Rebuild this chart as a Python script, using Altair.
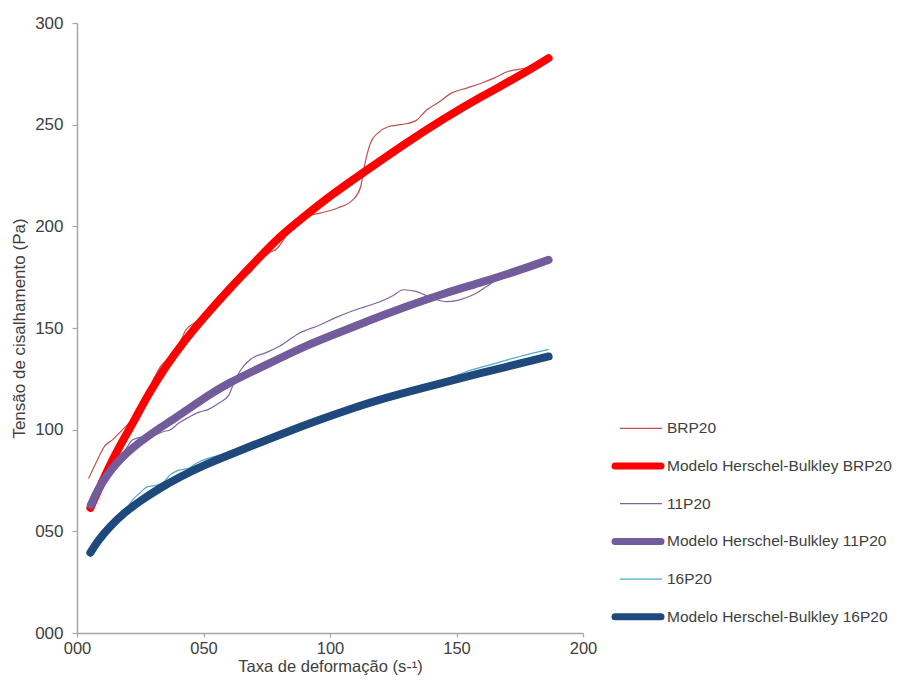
import altair as alt
import pandas as pd

# ---------------- data ----------------
series_names = [
    "BRP20",
    "Modelo Herschel-Bulkley BRP20",
    "11P20",
    "Modelo Herschel-Bulkley 11P20",
    "16P20",
    "Modelo Herschel-Bulkley 16P20",
]

brp_raw_x = [4.6, 8, 11, 14, 18, 22, 26, 30, 33, 36, 40, 43, 47, 52, 58, 62, 65, 68, 72, 76,
             79, 83, 87, 91, 96, 103, 109, 112, 114, 116, 119, 123, 128, 134, 138, 143, 148,
             154, 160, 165, 170, 178, 183, 186.4]
brp_raw_y = [76, 85, 92, 95, 100, 105, 112, 124, 131, 135, 141, 149, 153, 159, 167, 173, 176,
             177, 183, 187, 189, 196, 202, 205, 206.5, 209, 213, 219, 232, 241, 246, 249, 250,
             252, 257, 261, 265.5, 268, 270.5, 273, 276, 278, 280, 282]

brp_mod_x = [5.3, 8, 12, 16, 22, 28, 35, 42, 50, 60, 70, 80, 90, 100, 115, 130, 145, 160, 175, 186.4]
brp_mod_y = [61.6, 69, 80, 90, 103, 117, 131, 143, 155, 169, 182, 195, 205, 215, 228, 241, 253,
             264, 274, 282.7]

p11_raw_x = [5.5, 10, 15, 19, 22, 26, 30, 34, 37, 40, 44, 48, 52, 56, 60, 62, 64.5, 68.5, 75, 80,
             88, 96, 102, 108, 114, 120, 125, 129, 134, 138, 142, 146, 150, 154, 158, 162, 166,
             172, 178, 186.4]
p11_raw_y = [63, 75, 84, 90, 95, 96.5, 97, 99, 100, 103, 106, 108.5, 110, 113, 117, 123, 129,
             134.5, 138, 141, 147.5, 151.5, 155, 158, 160.5, 163, 166, 168.8, 168, 166, 164, 163,
             163.5, 165, 167.2, 170.5, 173.7, 177, 180, 183.5]

p11_mod_x = [5.5, 8, 12, 16, 20, 25, 31, 38, 45, 52, 60, 70, 80, 90, 100, 115, 130, 145, 160, 175, 186.4]
p11_mod_y = [63, 70, 78, 84, 89, 94, 99.5, 105, 111, 117, 123, 129, 135, 141, 146, 153.5, 160.5,
             167, 172.5, 178.5, 183.5]

p16_raw_x = [5.3, 10, 15, 19, 22, 25, 28, 31, 34, 37, 40, 44, 48, 52, 58, 65, 75, 85, 95, 105,
             115, 125, 135, 145, 155, 165, 175, 186.4]
p16_raw_y = [40, 48, 55, 60, 65.5, 69, 72, 72.5, 74, 78, 80, 81, 84, 86, 88, 91, 96, 101, 106,
             110, 114, 117.5, 121, 124.5, 129, 132.5, 136, 139.5]

p16_mod_x = [5.3, 8, 13, 19, 25, 33, 41, 50, 62, 70, 80, 96, 110, 120, 135, 152, 170, 186.4]
p16_mod_y = [39.5, 45, 52.5, 59.5, 65, 71.5, 77, 82.5, 88.5, 92.5, 97.5, 105, 111, 115, 120,
             125.5, 131, 136]

x_ticks = [0, 50, 100, 150, 200]
y_ticks = [0, 50, 100, 150, 200, 250, 300]

# ---------------- styles ----------------
series_colors = ["#C0504D", "#FF0000", "#8064A2", "#725C9C", "#4BACC6", "#1F497D"]
series_widths = [1.2, 8, 1.2, 8, 1.2, 8]

FONT = "Liberation Sans"
TXT = "#404040"
AX = "#A6A6A6"

all_x = [brp_raw_x, brp_mod_x, p11_raw_x, p11_mod_x, p16_raw_x, p16_mod_x]
all_y = [brp_raw_y, brp_mod_y, p11_raw_y, p11_mod_y, p16_raw_y, p16_mod_y]

rows = []
for name, xs, ys in zip(series_names, all_x, all_y):
    for k, (gx, ty) in enumerate(zip(xs, ys)):
        rows.append({"series": name, "k": k, "gamma": gx, "tau": ty})
df = pd.DataFrame(rows)

x_enc = alt.X(
    "gamma:Q",
    scale=alt.Scale(domain=[0, 200], nice=False),
    axis=alt.Axis(
        values=x_ticks, format="03d", grid=False, title="Taxa de deformação (s-¹)",
        labelFont=FONT, labelFontSize=16.5, labelColor=TXT, labelPadding=3, labelFlush=False,
        titleFont=FONT, titleFontSize=16.5, titleFontWeight="normal", titleColor=TXT,
        titlePadding=2, tickSize=4, tickColor=AX, domainColor=AX, domainWidth=1.5, tickWidth=1.2,
    ),
)
y_enc = alt.Y(
    "tau:Q",
    scale=alt.Scale(domain=[0, 300], nice=False),
    axis=alt.Axis(
        values=y_ticks, format="03d", grid=False, title="Tensão de cisalhamento (Pa)",
        labelFont=FONT, labelFontSize=17, labelColor=TXT, labelPadding=9, labelFlush=False,
        titleFont=FONT, titleFontSize=17, titleFontWeight="normal", titleColor=TXT,
        titlePadding=6, tickSize=5, tickColor=AX, domainColor=AX, domainWidth=1.5, tickWidth=1.2,
    ),
)

layers = []
for name, col, w in zip(series_names, series_colors, series_widths):
    thick = w > 2
    layers.append(
        alt.Chart(df)
        .transform_filter(alt.datum.series == name)
        .mark_line(
            interpolate="basis" if thick else "monotone", color=col, strokeWidth=w,
            strokeCap="round" if thick else "butt", strokeJoin="round",
        )
        .encode(x=x_enc, y=y_enc, order="k:Q")
    )

# ---------------- custom legend (thin / thick symbols) ----------------
LEG_TX = 590
LEG_Y0, LEG_DY = 405.3, 37.7
one = pd.DataFrame({"d": [0]})
for i, (name, col, w) in enumerate(zip(series_names, series_colors, series_widths)):
    yy = LEG_Y0 + i * LEG_DY
    thick = w > 2
    x0, x1 = (538, 584) if thick else (543, 585)
    layers.append(
        alt.Chart(one)
        .mark_rule(color=col, strokeWidth=7 if thick else w, strokeCap="round" if thick else "butt")
        .encode(x=alt.value(x0), x2=alt.value(x1), y=alt.value(yy))
    )
    layers.append(
        alt.Chart(one)
        .mark_text(align="left", baseline="middle", font=FONT, fontSize=15.5, color=TXT)
        .encode(x=alt.value(LEG_TX), y=alt.value(yy), text=alt.value(name))
    )

chart = (
    alt.layer(*layers)
    .properties(width=506, height=610, padding={"left": 2, "top": 6, "right": 0, "bottom": 0})
    .configure(background="white")
    .configure_view(stroke=None)
)

chart.save("out.html", embed_options={"renderer": "svg", "actions": False})
